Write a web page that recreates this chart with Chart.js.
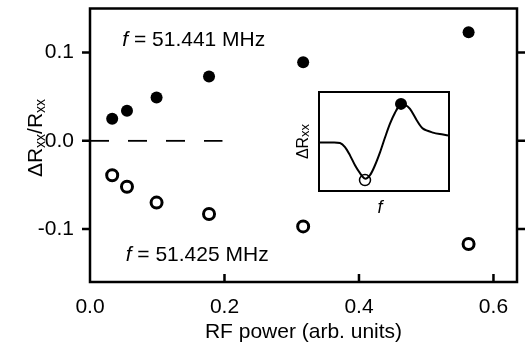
<!DOCTYPE html>
<html>
<head>
<meta charset="utf-8">
<script src="https://cdn.jsdelivr.net/npm/chart.js@4.4.0/dist/chart.umd.min.js"></script>
<style>
html, body { margin: 0; padding: 0; background: #fff; }
#wrap { position: relative; width: 528px; height: 345px; }
#main { position: absolute; left: 0; top: 0; }
#inset { position: absolute; left: 290px; top: 85px; }
</style>
</head>
<body>
<div id="wrap">
<canvas id="main" width="528" height="345"></canvas>
<canvas id="inset" width="170" height="140"></canvas>
</div>
<script>
// main panel
var power = [0.033, 0.055, 0.099, 0.177, 0.317, 0.563];
var highF = [0.025, 0.034, 0.049, 0.073, 0.089, 0.123];   // f = 51.441 MHz
var lowF = [-0.039, -0.052, -0.070, -0.083, -0.097, -0.117]; // f = 51.425 MHz
var xTicks = [0, 0.2, 0.4, 0.6];
var yTicks = [-0.1, 0, 0.1];
var zeroX = [0, 0.197];
var zeroY = [0, 0];

// inset trace (arbitrary units)
var insetF = [1, 11, 21, 26, 31, 36, 41, 46, 51, 56, 61, 66, 71, 76, 81, 86, 91, 98, 104, 114, 124, 129];
var insetR = [0, 0, -0.5, -4.7, -13, -23, -31, -36.5, -33, -23, -10, 5, 19, 30, 38, 38, 34, 22, 14, 10, 8, 7];
var insetOpen = [46, -38];
var insetFilled = [82, 39];

var FONT = "'Liberation Sans', Arial, Helvetica, sans-serif";

function pts(xs, ys) {
    var out = [];
    for (var i = 0; i < xs.length; i++) out.push({x: xs[i], y: ys[i]});
    return out;
}

// draws text runs, each {t, size, dy, italic}, starting at x (left), y baseline
function richText(ctx, parts, x, y, align) {
    var w = 0;
    for (var i = 0; i < parts.length; i++) {
        ctx.font = (parts[i].italic ? 'italic ' : '') + parts[i].size + 'px ' + FONT;
        w += ctx.measureText(parts[i].t).width;
    }
    var cx = align === 'center' ? x - w / 2 : x;
    ctx.textAlign = 'left';
    ctx.textBaseline = 'alphabetic';
    for (var i = 0; i < parts.length; i++) {
        ctx.font = (parts[i].italic ? 'italic ' : '') + parts[i].size + 'px ' + FONT;
        ctx.fillText(parts[i].t, cx, y + (parts[i].dy || 0));
        cx += ctx.measureText(parts[i].t).width;
    }
}

var mainDecor = {
    id: 'mainDecor',
    afterDraw: function(chart) {
        var ctx = chart.ctx, a = chart.chartArea;
        var xs = chart.scales.x, ys = chart.scales.y;
        ctx.save();
        ctx.strokeStyle = '#000';
        ctx.fillStyle = '#000';
        ctx.lineWidth = 2.5;
        ctx.strokeRect(a.left, a.top, a.right - a.left, a.bottom - a.top);
        ctx.beginPath();
        for (var i = 0; i < yTicks.length; i++) {
            var py = ys.getPixelForValue(yTicks[i]);
            ctx.moveTo(a.left - 8, py); ctx.lineTo(a.left, py);
            ctx.moveTo(a.right, py); ctx.lineTo(a.right + 8, py);
        }
        for (var i = 1; i < xTicks.length; i++) {
            var px = xs.getPixelForValue(xTicks[i]);
            ctx.moveTo(px, a.bottom); ctx.lineTo(px, a.bottom - 8);
        }
        ctx.stroke();

        // y title
        ctx.save();
        ctx.translate(42, 138);
        ctx.rotate(-Math.PI / 2);
        richText(ctx, [
            {t: '\u0394R', size: 21},
            {t: 'xx', size: 14, dy: 3},
            {t: '/R', size: 21},
            {t: 'xx', size: 14, dy: 3}
        ], 0, 0, 'center');
        ctx.restore();

        // annotations
        richText(ctx, [
            {t: 'f', size: 21, italic: true},
            {t: ' = 51.441 MHz', size: 21}
        ], xs.getPixelForValue(0.048), ys.getPixelForValue(0.108), 'left');
        richText(ctx, [
            {t: 'f', size: 21, italic: true},
            {t: ' = 51.425 MHz', size: 21}
        ], xs.getPixelForValue(0.053), ys.getPixelForValue(-0.136), 'left');
        ctx.restore();
    }
};

new Chart(document.getElementById('main'), {
    type: 'scatter',
    data: {
        datasets: [
            {
                label: 'f = 51.441 MHz',
                data: pts(power, highF),
                pointRadius: 6,
                pointBackgroundColor: '#000',
                pointBorderWidth: 0
            },
            {
                label: 'f = 51.425 MHz',
                data: pts(power, lowF),
                pointRadius: 5.5,
                pointBackgroundColor: 'rgba(0,0,0,0)',
                pointBorderColor: '#000',
                pointBorderWidth: 3
            },
            {
                label: 'zero',
                data: pts(zeroX, zeroY),
                showLine: true,
                borderColor: '#000',
                borderWidth: 1.8,
                borderDash: [19, 19],
                pointRadius: 0
            }
        ]
    },
    options: {
        responsive: false,
        animation: false,
        events: [],
        layout: { padding: { top: 5, right: 11, left: 0, bottom: 0 } },
        plugins: { legend: { display: false }, tooltip: { enabled: false } },
        scales: {
            x: {
                type: 'linear',
                min: 0,
                max: 0.635,
                grid: { display: false },
                border: { display: false },
                afterBuildTicks: function(s) { s.ticks = xTicks.map(function(v) { return {value: v}; }); },
                afterFit: function(s) { s.height = 63; s.paddingLeft = 0; s.paddingRight = 0; },
                ticks: {
                    color: '#000',
                    padding: 5,
                    maxRotation: 0,
                    font: { family: FONT, size: 21 },
                    callback: function(v) { return v.toFixed(1); }
                },
                title: {
                    display: true,
                    text: 'RF power (arb. units)',
                    color: '#000',
                    padding: { top: 0, bottom: 0 },
                    font: { family: FONT, size: 21 }
                }
            },
            y: {
                type: 'linear',
                min: -0.16,
                max: 0.15,
                grid: { display: false },
                border: { display: false },
                afterBuildTicks: function(s) { s.ticks = yTicks.map(function(v) { return {value: v}; }); },
                afterFit: function(s) { s.width = 90; s.paddingTop = 0; s.paddingBottom = 0; },
                ticks: {
                    color: '#000',
                    padding: 8,
                    font: { family: FONT, size: 21 },
                    callback: function(v) { return v.toFixed(1); }
                }
            }
        }
    },
    plugins: [mainDecor]
});

var insetDecor = {
    id: 'insetDecor',
    afterDraw: function(chart) {
        var ctx = chart.ctx, a = chart.chartArea;
        ctx.save();
        ctx.strokeStyle = '#000';
        ctx.fillStyle = '#000';
        ctx.lineWidth = 2;
        ctx.strokeRect(a.left, a.top, a.right - a.left, a.bottom - a.top);
        ctx.save();
        ctx.translate(a.left - 11, (a.top + a.bottom) / 2);
        ctx.rotate(-Math.PI / 2);
        richText(ctx, [
            {t: '\u0394R', size: 16},
            {t: 'xx', size: 13, dy: 1}
        ], 0, 0, 'center');
        ctx.restore();
        richText(ctx, [{t: 'f', size: 18, italic: true}], 90, a.bottom + 22, 'center');
        ctx.restore();
    }
};

new Chart(document.getElementById('inset'), {
    type: 'scatter',
    data: {
        datasets: [
            {
                label: 'trace',
                data: pts(insetF, insetR),
                showLine: true,
                tension: 0.3,
                borderColor: '#000',
                borderWidth: 2,
                pointRadius: 0
            },
            {
                label: 'open',
                data: [{x: insetOpen[0], y: insetOpen[1]}],
                pointRadius: 5.5,
                pointBackgroundColor: '#fff',
                pointBorderColor: '#000',
                pointBorderWidth: 1.5
            },
            {
                label: 'filled',
                data: [{x: insetFilled[0], y: insetFilled[1]}],
                pointRadius: 6,
                pointBackgroundColor: '#000',
                pointBorderWidth: 0
            }
        ]
    },
    options: {
        responsive: false,
        animation: false,
        events: [],
        layout: { padding: { left: 29, top: 6, right: 11, bottom: 34 } },
        plugins: { legend: { display: false }, tooltip: { enabled: false } },
        scales: {
            x: { type: 'linear', min: 0, max: 130, display: false },
            y: { type: 'linear', min: -49, max: 51, display: false }
        }
    },
    plugins: [insetDecor]
});
</script>
</body>
</html>
